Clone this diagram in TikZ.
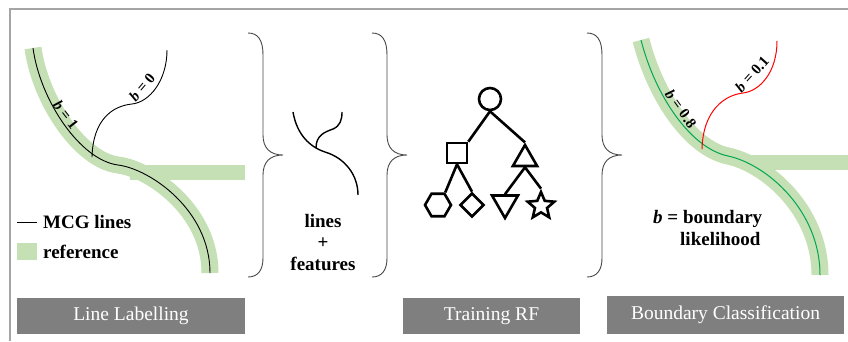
\documentclass[tikz,border=0pt]{standalone}
\usepackage{fontspec}
\setmainfont{Liberation Serif}
\usetikzlibrary{shapes.geometric}
\definecolor{refgreen}{RGB}{197,224,180}
\definecolor{linegreen}{RGB}{0,166,80}
\definecolor{boxgray}{RGB}{127,127,127}
\definecolor{framegray}{RGB}{165,165,165}
\definecolor{bracegray}{RGB}{70,70,70}
\tikzset{
  band/.style={draw=refgreen, line width=17pt},
  mcg/.style={draw=black, line width=0.9pt},
  bracepath/.style={draw=bracegray, line width=0.9pt},
  treeline/.style={draw=black, line width=2.6pt},
  treenode/.style={draw=black, line width=2.6pt, inner sep=0pt, fill=white},
  stage/.style={fill=boxgray, text=white, minimum height=36pt, inner sep=0pt,
    font=\fontsize{19.5}{23}\selectfont},
  legendtext/.style={anchor=west, inner sep=0pt, font=\fontsize{19}{22}\selectfont\bfseries},
  bigtext/.style={inner sep=0pt, font=\fontsize{19}{22}\selectfont\bfseries},
  blabel/.style={inner sep=0pt, font=\fontsize{15}{17}\selectfont\bfseries}
}
\begin{document}
\begin{tikzpicture}[x=1pt, y=-1pt]
\useasboundingbox (0,0) rectangle (848,341);

% frame
\draw[framegray, line width=1.2pt] (10,341) -- (10,9) -- (848,9);

% ---------- line labelling ----------
\fill[refgreen] (130,165) rectangle (245,180);
\path[band] (33,48) .. controls (40,100) and (80,160) .. (118,165)
  .. controls (150,169) and (210,210) .. (210,273);
\draw[mcg] (33,48) .. controls (40,100) and (80,160) .. (118,165)
  .. controls (150,169) and (210,210) .. (210,273);
\draw[mcg] (92,157) .. controls (93,120) and (112,106) .. (132,104)
  .. controls (150,102) and (167,80) .. (167,50);
\node[blabel, rotate=-52] (b1) at (66,115) {\textit{b} = 1};
\node[blabel, rotate=50] (b0) at (142,87) {\textit{b} = 0};

% legend
\coordinate (lgA) at (17,222);
\coordinate (lgB) at (37,222);
\draw[black, line width=1pt] (lgA) -- (lgB);
\node[legendtext] (lgmcg) at (43,222) {MCG lines};
\fill[refgreen] (17,243) rectangle (37,260);
\node[legendtext] (lgref) at (43,252) {reference};

% ---------- braces ----------
\foreach \dx in {0, 124, 339}{
  \begin{scope}[xshift=\dx]
    \draw[bracepath] (248,33) .. controls (258,33) and (263,40) .. (263,55) -- (263,135)
      .. controls (263,148) and (270,155) .. (283,155)
      .. controls (270,155) and (263,162) .. (263,175) -- (263,258)
      .. controls (263,270) and (258,277) .. (248,277);
  \end{scope}
}

% ---------- lines + features ----------
\draw[black, line width=1.4pt] (293,112) .. controls (297,135) and (310,147) .. (325,152)
  .. controls (345,158) and (358,175) .. (358,195);
\draw[black, line width=1.4pt] (316,148) .. controls (316,135) and (325,132) .. (333,129)
  .. controls (340,126) and (342,120) .. (342,112);
\node[bigtext] (tl) at (323,221) {lines};
\node[bigtext] (tp) at (323,243) {+};
\node[bigtext] (tf) at (323,264) {features};

% ---------- random forest tree ----------
\node[treenode, circle, minimum size=22pt] (root) at (490,99) {};
\node[treenode, rectangle, minimum size=20pt] (sq) at (457,153) {};
\node[treenode, regular polygon, regular polygon sides=3, minimum size=28pt] (tri) at (525,159) {};
\node[treenode, regular polygon, regular polygon sides=6, minimum size=26pt] (hex) at (438,205) {};
\node[treenode, diamond, minimum width=24pt, minimum height=24pt] (dia) at (472,205) {};
\node[treenode, regular polygon, regular polygon sides=3, shape border rotate=180, minimum size=30pt] (dtri) at (505,203) {};
\node[treenode, star, star points=5, star point ratio=2.2, minimum size=28pt] (st) at (541,206) {};
\draw[treeline] (root.south) -- (sq.north east);
\draw[treeline] (root.south) -- (tri.corner 1);
\draw[treeline] (sq.south) -- (hex.corner 1);
\draw[treeline] (sq.south) -- (dia.north);
\draw[treeline] (tri.south) -- (dtri.north);
\draw[treeline] (tri.south) -- (st.outer point 1);

% ---------- boundary classification ----------
\fill[refgreen] (745,155) rectangle (848,170);
\path[band] (641,40) .. controls (655,95) and (690,148) .. (728,156)
  .. controls (766,164) and (820,210) .. (820,275);
\draw[linegreen, line width=1pt] (641,40) .. controls (655,95) and (690,148) .. (728,156)
  .. controls (766,164) and (820,210) .. (820,275);
\draw[red, line width=1pt] (702,149) .. controls (703,110) and (725,95) .. (743,93)
  .. controls (760,91) and (777,72) .. (777,41);
\node[blabel, rotate=-54] (b08) at (681,109) {\textit{b} = 0.8};
\node[blabel, rotate=48] (b01) at (752,74) {\textit{b} = 0.1};
\node[bigtext, anchor=base west] (bdef) at (653,223) {\textit{b} = boundary};
\node[bigtext, anchor=base west] (blik) at (680,245) {likelihood};

% ---------- stage labels ----------
\node[stage, minimum width=228pt] (s1) at (131,316) {Line Labelling};
\node[stage, minimum width=177pt] (s2) at (491.5,316) {Training RF};
\node[stage, minimum width=237pt, minimum height=38pt] (s3) at (725.5,315) {Boundary Classification};
\end{tikzpicture}
\end{document}
